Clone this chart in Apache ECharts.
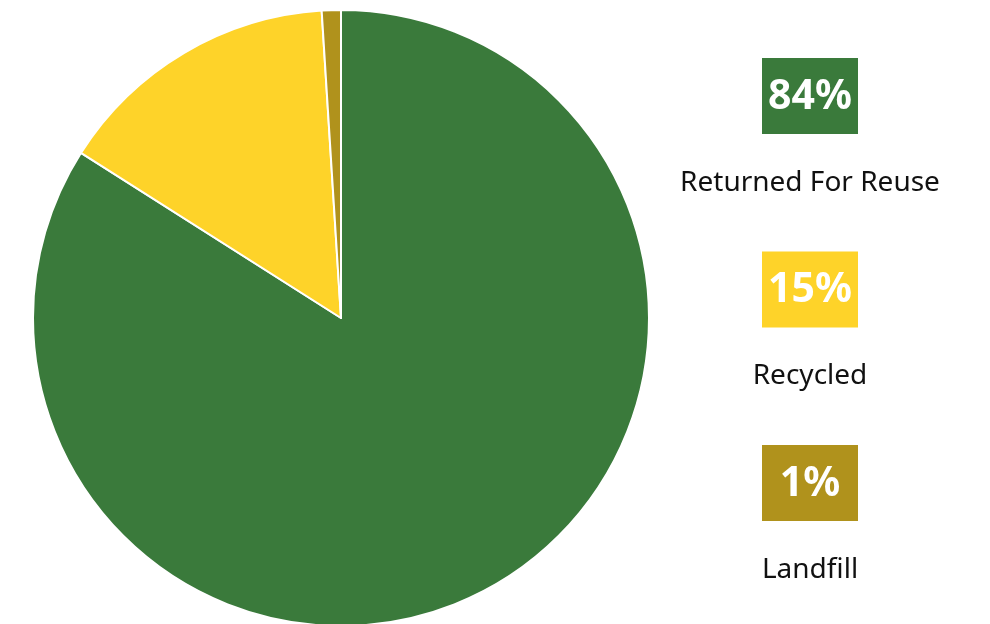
<!DOCTYPE html>
<html><head><meta charset="utf-8">
<script src="https://cdn.jsdelivr.net/npm/echarts@6/dist/echarts.min.js"></script>
<style>html,body{margin:0;padding:0;background:#fff}#c{width:990px;height:624px}</style>
</head><body><div id="c"></div>
<script>
const categories = ['Returned For Reuse', 'Recycled', 'Landfill'];
const values = [84, 15, 1];
const colors = ['#3a7a3b', '#fed329', '#b0921c'];

const chart = echarts.init(document.getElementById('c'));
const graphics = [];
categories.forEach((name, i) => {
  const top = 58 + i * 193.5;
  graphics.push({
    type: 'rect', shape: {x: 762, y: top, width: 96, height: 76},
    style: {fill: colors[i]}
  });
  graphics.push({
    type: 'text', x: 810, y: top + 39,
    style: {text: values[i] + '%', fill: '#fff', font: 'bold 41px "Noto Sans"', align: 'center', verticalAlign: 'middle'}
  });
  graphics.push({
    type: 'text', x: 810, y: top + 125,
    style: {text: name, fill: '#111', font: '28px "Noto Sans"', align: 'center', verticalAlign: 'middle'}
  });
});
chart.setOption({
  animation: false,
  series: [{
    type: 'pie',
    center: [341, 318],
    radius: 308,
    startAngle: 90,
    clockwise: true,
    label: {show: false},
    labelLine: {show: false},
    itemStyle: {borderColor: '#fff', borderWidth: 2},
    data: categories.map((n, i) => ({name: n, value: values[i], itemStyle: {color: colors[i]}}))
  }],
  graphic: graphics
});
</script></body></html>
